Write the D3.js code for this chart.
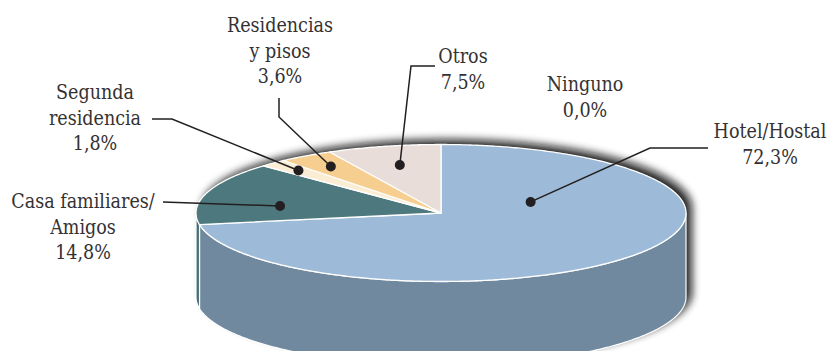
<!DOCTYPE html>
<html>
<head>
<meta charset="utf-8">
<script src="https://cdn.jsdelivr.net/npm/d3@7"></script>
<style>
  html, body { margin: 0; padding: 0; background: #fff; }
  svg { display: block; }
  text { font-family: "DejaVu Serif Condensed", "DejaVu Serif", serif; font-stretch: condensed; font-size: 19.5px; fill: #353132; }
</style>
</head>
<body>
<svg id="chart" width="827" height="351"></svg>
<script>
// Alojamiento utilizado (%)
const categories = ["Hotel/Hostal", "Casa familiares/Amigos", "Segunda residencia", "Residencias y pisos", "Otros", "Ninguno"];
const values = [72.3, 14.8, 1.8, 3.6, 7.5, 0.0];
const labelLines = [["Hotel/Hostal"], ["Casa familiares/", "Amigos"], ["Segunda", "residencia"], ["Residencias", "y pisos"], ["Otros"], ["Ninguno"]];
const topColors = ["#9dbbd8", "#4d797e", "#fbecd4", "#f6cf90", "#e8ddd8", "#cccccc"];
const sideColors = ["#71899f", "#436e73", "#e0d2bd", "#d8b57e", "#cfc4bf", "#aaaaaa"];

// Geometry of the tilted disc
const cx = 441, cy = 213, rx = 245, ry = 68.5, depth = 84;

// Label placement: text centre/baseline, leader elbows, dot angle offset (deg) and radius fraction
const labelLayout = [
  { x: 770, y: 138, leader: [[708, 148], [650, 148]], dOff: -64, dR: 0.40 },
  { x: 83, y: 208, leader: [[163, 202]], dOff: -8, dR: 0.665 },
  { x: 95, y: 99, leader: [[152, 119], [172, 119]], dOff: 0, dR: 0.85 },
  { x: 280, y: 32, leader: [[279, 98], [279, 117]], dOff: 0, dR: 0.815 },
  { x: 463, y: 63, leader: [[435, 66], [411, 66]], dOff: 0, dR: 0.72 },
  { x: 585, y: 91, leader: null }
];

const svg = d3.select("#chart");
const fmt = v => d3.format(".1f")(v).replace(".", ",") + "%";

const pie = d3.pie().sort(null).value(d => d.value).startAngle(0).endAngle(2 * Math.PI);
const data = values.map((v, i) => ({ name: categories[i], value: v, i }));
const arcs = pie(data);

// point on the ellipse for an angle measured clockwise from 12 o'clock
const pt = (a, k = 1, dy = 0) => [cx + rx * k * Math.sin(a), cy - ry * k * Math.cos(a) + dy];
const sample = (a0, a1, dy = 0) => {
  const n = Math.max(2, Math.ceil(Math.abs(a1 - a0) / 0.01));
  return d3.range(n + 1).map(j => pt(a0 + (a1 - a0) * j / n, 1, dy));
};
const line = d3.line();

// soft shadow behind the disc
const defs = svg.append("defs");
defs.append("filter").attr("id", "blur").attr("x", "-20%").attr("y", "-40%").attr("width", "140%").attr("height", "180%")
  .append("feGaussianBlur").attr("stdDeviation", 4.5);

const silhouette = sample(-Math.PI / 2, Math.PI / 2, 0)
  .concat(sample(Math.PI / 2, Math.PI * 1.5, depth));
svg.append("path")
  .attr("d", line(silhouette) + "Z")
  .attr("transform", "translate(6,-5)")
  .attr("fill", "#111")
  .attr("opacity", 0.9)
  .attr("filter", "url(#blur)");

// front walls
const gSide = svg.append("g");
arcs.forEach(d => {
  const a = Math.max(d.startAngle, Math.PI / 2);
  const b = Math.min(d.endAngle, Math.PI * 1.5);
  if (a >= b) return;
  const pts = sample(a, b, 0).concat(sample(b, a, depth));
  gSide.append("path")
    .attr("d", line(pts) + "Z")
    .attr("fill", sideColors[d.index])
    .attr("stroke", "#ffffff")
    .attr("stroke-width", 1.2)
    .attr("stroke-linejoin", "round");
});

// top face slices
const gTop = svg.append("g");
arcs.forEach(d => {
  if (d.endAngle - d.startAngle <= 0) return;
  const pts = [[cx, cy]].concat(sample(d.startAngle, d.endAngle, 0));
  gTop.append("path")
    .attr("d", line(pts) + "Z")
    .attr("fill", topColors[d.index])
    .attr("stroke", "#ffffff")
    .attr("stroke-width", 1.3)
    .attr("stroke-linejoin", "round");
});

// labels, leader lines and dots
const gLab = svg.append("g");
arcs.forEach(d => {
  const L = labelLayout[d.index];
  const lines = labelLines[d.index].concat([fmt(d.value)]);
  const t = gLab.append("text").attr("text-anchor", "middle");
  lines.forEach((s, j) => t.append("tspan").attr("x", L.x).attr("y", L.y + j * 25.5).text(s));
  if (!L.leader) return;
  const mid = (d.startAngle + d.endAngle) / 2 + L.dOff * Math.PI / 180;
  const dot = pt(mid, L.dR);
  gLab.append("path")
    .attr("d", line(L.leader.concat([dot])))
    .attr("fill", "none")
    .attr("stroke", "#231f20")
    .attr("stroke-width", 1.5);
  gLab.append("circle")
    .attr("cx", dot[0]).attr("cy", dot[1]).attr("r", 5)
    .attr("fill", "#231f20");
});
</script>
</body>
</html>
